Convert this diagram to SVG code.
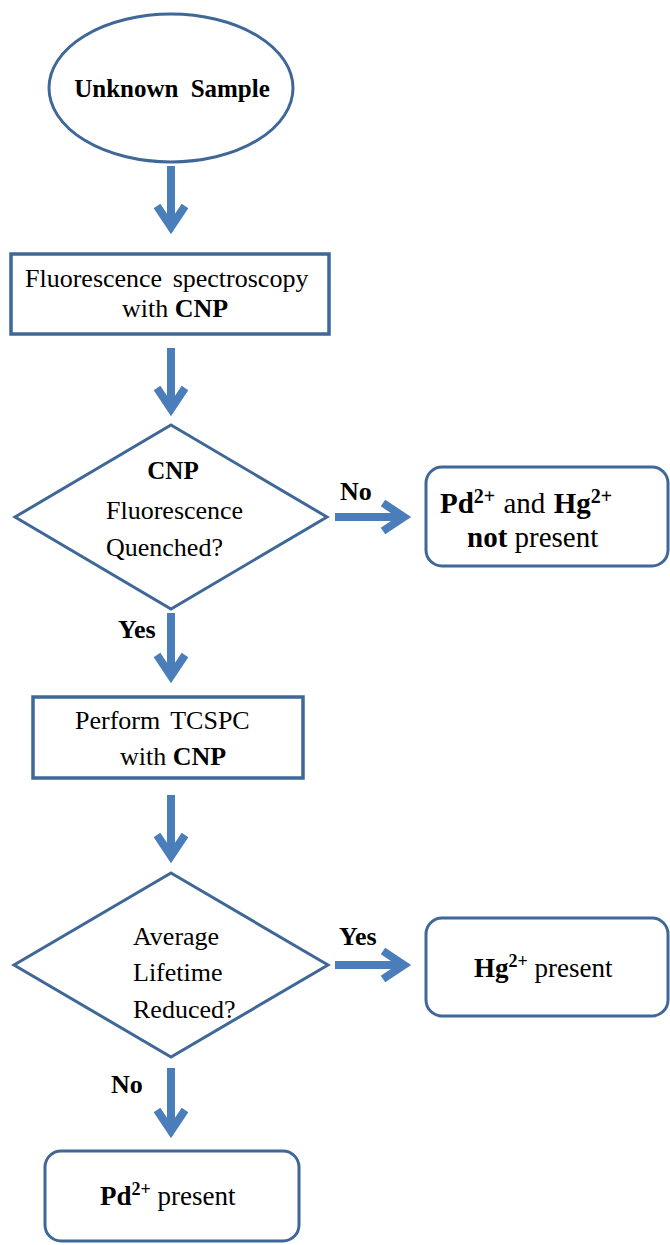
<svg xmlns="http://www.w3.org/2000/svg" width="670" height="1245" viewBox="0 0 670 1245">
<style>
.shape{fill:#ffffff;stroke:#3f6797;stroke-width:3}
.box{fill:#ffffff;stroke:#3f6797;stroke-width:3.5}
.arr{fill:none;stroke:#4a7ebb;stroke-width:8;stroke-linejoin:miter;stroke-miterlimit:10}
</style>
<rect x="0" y="0" width="670" height="1245" fill="#ffffff"/>
<g id="connectors">
<path class="arr" d="M171 166V227M157 206L171 227L185 206"/>
<path class="arr" d="M171 348V409M157 388L171 409L185 388"/>
<path class="arr" d="M171 613V676M157 655L171 676L185 655"/>
<path class="arr" d="M171 795V856M157 835L171 856L185 835"/>
<path class="arr" d="M171 1068V1131M157 1110L171 1131L185 1110"/>
<path class="arr" d="M335 517H404M383 503L404 517L383 531"/>
<path class="arr" d="M335 965H404M383 951L404 965L383 979"/>
<g font-family="Liberation Serif" font-size="26" font-weight="bold" fill="#000000">
<text x="340" y="500">No</text>
<text x="118" y="638">Yes</text>
<text x="339" y="945">Yes</text>
<text x="111" y="1093">No</text>
</g>
</g>
<g id="nodes" font-family="Liberation Serif" font-size="26" fill="#000000">
<g id="start">
<ellipse class="shape" cx="171" cy="88" rx="122" ry="74"/>
<text x="172" y="97" text-anchor="middle" word-spacing="6" font-size="25" font-weight="bold">Unknown Sample</text>
</g>
<g id="fluorescence">
<rect class="box" x="11" y="254" width="318" height="80"/>
<text x="25" y="287" word-spacing="4">Fluorescence spectroscopy</text>
<text x="122" y="317">with <tspan font-weight="bold">CNP</tspan></text>
</g>
<g id="decision1">
<polygon class="shape" points="171,425 327,517 171,609 15,517"/>
<text x="173" y="479" text-anchor="middle" font-weight="bold" font-size="25">CNP</text>
<text x="106" y="519">Fluorescence</text>
<text x="106" y="556">Quenched?</text>
</g>
<g id="notpresent">
<rect class="shape" x="426" y="467" width="242" height="99" rx="16"/>
<text x="440" y="513" font-size="29" word-spacing="1"><tspan font-weight="bold">Pd</tspan><tspan font-weight="bold" font-size="20" dy="-10">2+</tspan><tspan dy="10"> and </tspan><tspan font-weight="bold">Hg</tspan><tspan font-weight="bold" font-size="20" dy="-10">2+</tspan></text>
<text x="467" y="547" font-size="29"><tspan font-weight="bold">not</tspan> present</text>
</g>
<g id="tcspc">
<rect class="box" x="33" y="697" width="270" height="81"/>
<text x="75" y="729" word-spacing="4">Perform TCSPC</text>
<text x="120" y="765">with <tspan font-weight="bold">CNP</tspan></text>
</g>
<g id="decision2">
<polygon class="shape" points="171,873 328,965 171,1057 14,965"/>
<text x="133" y="945">Average</text>
<text x="133" y="981">Lifetime</text>
<text x="133" y="1018">Reduced?</text>
</g>
<g id="hgpresent">
<rect class="shape" x="426" y="918" width="242" height="98" rx="16"/>
<text x="474" y="977" font-size="27"><tspan font-weight="bold">Hg</tspan><tspan font-weight="bold" font-size="18" dy="-10">2+</tspan><tspan dy="10"> present</tspan></text>
</g>
<g id="pdpresent">
<rect class="shape" x="45" y="1151" width="254" height="90" rx="16"/>
<text x="100" y="1205" font-size="27"><tspan font-weight="bold">Pd</tspan><tspan font-weight="bold" font-size="18" dy="-10">2+</tspan><tspan dy="10"> present</tspan></text>
</g>
</g>
</svg>
